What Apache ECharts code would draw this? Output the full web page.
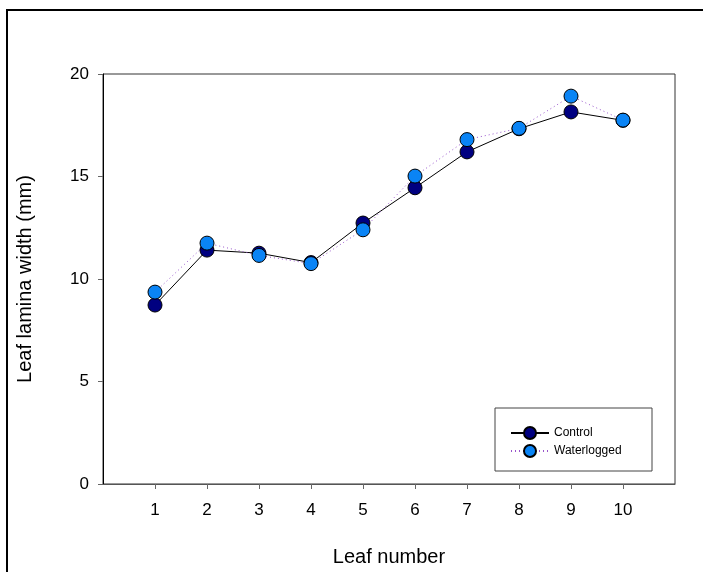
<!DOCTYPE html>
<html><head><meta charset="utf-8">
<script src="https://cdn.jsdelivr.net/npm/echarts@6/dist/echarts.min.js"></script>
<style>html,body{margin:0;padding:0;background:#fff}#c{width:703px;height:572px}</style>
</head><body><div id="c"></div>
<script>
const leafNumbers = [1,2,3,4,5,6,7,8,9,10];
const controlValues = [8.73,11.41,11.26,10.8,12.73,14.45,16.2,17.33,18.15,17.74];
const waterloggedValues = [9.36,11.75,11.15,10.75,12.4,15.02,16.8,17.35,18.92,17.75];
const yTicks = [0,5,10,15,20];

const chart = echarts.init(document.getElementById('c'));
const font = 'Arial, "Liberation Sans", sans-serif';
chart.setOption({
  animation:false,
  backgroundColor:'#fff',
  graphic:[
    {type:'rect',shape:{x:7,y:10,width:800,height:700},style:{fill:'none',stroke:'#000',lineWidth:2},silent:true},
    {type:'rect',shape:{x:495,y:408,width:157,height:63},style:{fill:'#fff',stroke:'#444',lineWidth:1},z:10,silent:true}
  ],
  grid:{left:103,top:74,width:572,height:410,show:true,borderColor:'#333',borderWidth:1},
  legend:{
    orient:'vertical',left:505,top:421,itemWidth:38,itemHeight:15,itemGap:4,z:20,
    textStyle:{fontFamily:font,fontSize:12,color:'#000'},
    data:['Control','Waterlogged']
  },
  xAxis:{
    type:'value',min:0,max:11,interval:1,
    name:'Leaf number',nameLocation:'middle',nameGap:63,
    nameTextStyle:{fontFamily:font,fontSize:20,color:'#000'},
    axisLine:{show:true,lineStyle:{color:'#555',width:1}},
    axisTick:{show:true,length:5,customValues:leafNumbers,lineStyle:{color:'#666'}},
    axisLabel:{customValues:leafNumbers,margin:18,fontFamily:font,fontSize:17,color:'#000'},
    splitLine:{show:false}
  },
  yAxis:{
    type:'value',min:yTicks[0],max:yTicks[yTicks.length-1],interval:5,
    name:'Leaf lamina width (mm)',nameLocation:'middle',nameGap:68,
    nameTextStyle:{fontFamily:font,fontSize:20,color:'#000'},
    axisLine:{show:true,lineStyle:{color:'#000',width:1}},
    axisTick:{show:true,length:5,lineStyle:{color:'#666'}},
    axisLabel:{margin:14,fontFamily:font,fontSize:17,color:'#000'},
    splitLine:{show:false}
  },
  series:[
    {name:'Control',type:'line',data:leafNumbers.map((x,i)=>[x,controlValues[i]]),
     symbol:'circle',symbolSize:14,
     itemStyle:{color:'#000080',borderColor:'#000',borderWidth:1},
     lineStyle:{color:'#000',width:1}},
    {name:'Waterlogged',type:'line',data:leafNumbers.map((x,i)=>[x,waterloggedValues[i]]),
     symbol:'circle',symbolSize:14,
     itemStyle:{color:'#0a84f5',borderColor:'#000',borderWidth:1},
     lineStyle:{color:'#9955cc',width:1,type:[1,3]}}
  ]
});
</script></body></html>
